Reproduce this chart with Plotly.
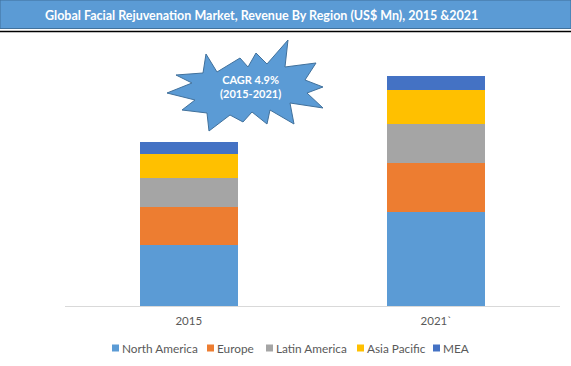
import plotly.graph_objects as go

W, H = 571, 366

years = ["2015", "2021`"]
regions = ["North America", "Europe", "Latin America", "Asia Pacific", "MEA"]
north_america = [60.7, 94.0]
europe = [38.0, 48.7]
latin_america = [29.0, 39.0]
asia_pacific = [24.0, 34.0]
mea = [12.0, 14.0]
series = [north_america, europe, latin_america, asia_pacific, mea]
colors = ["#5B9BD5", "#ED7D31", "#A5A5A5", "#FFC000", "#4472C4"]

title_text = "Global Facial Rejuvenation Market, Revenue By Region (US$ Mn), 2015 &2021"
cagr_text = "CAGR 4.9%<br>(2015-2021)"

# layout positions (pixels) of the custom legend entries
legend_x = [112, 207, 266, 357, 433]
legend_y = 348

FONT = "Lato, Carlito, Calibri, sans-serif"


def px(x):
    return x / W


def py(y):
    return 1 - y / H


fig = go.Figure()
for name, vals, col in zip(regions, series, colors):
    fig.add_trace(go.Bar(x=years, y=vals, name=name, marker=dict(color=col, line=dict(width=0)),
                         showlegend=False, hoverinfo="y+name"))

# star (decoration) in pixel coords -> paper coords
star_px = [
    (206, 54), (217, 72), (240, 58), (248, 67), (256, 53), (267, 64), (288, 40),
    (285, 67), (316, 63), (305, 80), (323, 87), (307, 93), (323, 108), (290, 103),
    (294, 124), (270, 110), (267, 124), (252, 112), (243, 122), (230, 115), (209, 131),
    (207, 113), (182, 110), (195, 100), (167, 93), (192, 83), (176, 75), (203, 73),
]
path = "M " + " L ".join(f"{px(x):.5f},{py(y):.5f}" for x, y in star_px) + " Z"

shapes = [
    dict(type="rect", xref="paper", yref="paper", x0=0, x1=1, y0=py(28.5), y1=1,
         fillcolor="#5B9BD5", line=dict(color="#41719C", width=1), layer="above"),
    dict(type="line", xref="paper", yref="paper", x0=0, x1=1, y0=py(31.5), y1=py(31.5),
         line=dict(color="black", width=1.5)),
    dict(type="path", xref="paper", yref="paper", path=path,
         fillcolor="#5B9BD5", line=dict(color="#41719C", width=1)),
]

annotations = [
    dict(text=f"<b>{title_text}</b>", xref="paper", yref="paper", x=px(261.5), y=py(15),
         xanchor="center", yanchor="middle", showarrow=False,
         font=dict(family=FONT, size=12.5, color="white")),
    dict(text=f"<b>{cagr_text}</b>", xref="paper", yref="paper", x=px(250), y=py(86),
         xanchor="center", yanchor="middle", showarrow=False,
         font=dict(family=FONT, size=11, color="white")),
]

# custom legend built from regions/colors
for name, col, lx in zip(regions, colors, legend_x):
    shapes.append(dict(type="rect", xref="paper", yref="paper",
                       x0=px(lx), x1=px(lx + 7), y0=py(legend_y + 3.5), y1=py(legend_y - 3.5),
                       fillcolor=col, line=dict(width=0)))
    annotations.append(dict(text=name, xref="paper", yref="paper", x=px(lx + 8), y=py(legend_y),
                            xanchor="left", yanchor="middle", showarrow=False,
                            font=dict(family=FONT, size=11.8, color="#595959")))

fig.update_layout(
    width=W, height=H,
    margin=dict(l=0, r=0, t=0, b=0),
    paper_bgcolor="white", plot_bgcolor="white",
    barmode="stack", bargap=0.604,
    shapes=shapes, annotations=annotations,
    font=dict(family=FONT, size=11, color="#595959"),
    xaxis=dict(domain=[px(65), px(560)], showline=True, linecolor="#D9D9D9", linewidth=1,
               ticks="", showgrid=False, tickfont=dict(size=11.5, color="#595959"),
               ticklabelstandoff=4, fixedrange=True),
    yaxis=dict(domain=[py(306), py(40)], range=[0, 266], visible=False, showgrid=False,
               fixedrange=True),
    showlegend=False,
)

fig.write_html("out.html", config={"displayModeBar": False},
               post_script="document.body.style.margin='0px';")
